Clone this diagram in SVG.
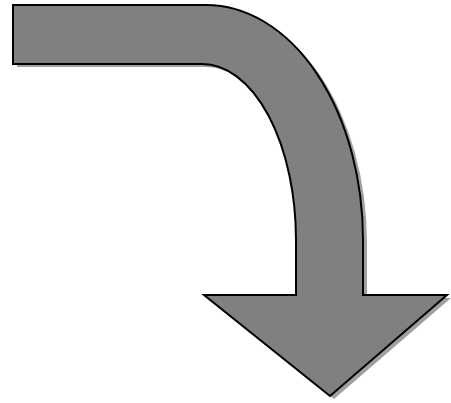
<svg xmlns="http://www.w3.org/2000/svg" width="451" height="403" viewBox="0 0 451 403">
<defs>
<style>
.shadow{fill:#a0a0a0;stroke:none}
.body{fill:#808080;stroke:#000;stroke-width:2;stroke-linejoin:miter}
</style>
<path id="arrowShape" d="M13,5 H206 A157,235 0 0 1 363,240 V295 H447 L330,396 L204,295 H296 V240 A94,176 0 0 0 202,64 H13 Z"/>
</defs>
<g id="bent-arrow">
<use href="#arrowShape" class="shadow" transform="translate(4,3)"/>
<use href="#arrowShape" class="body"/>
</g>
</svg>
